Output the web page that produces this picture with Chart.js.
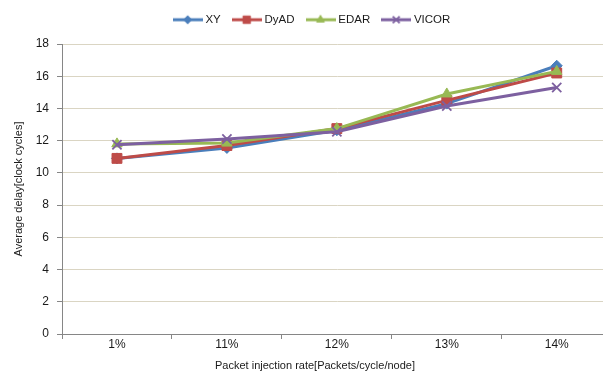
<!DOCTYPE html>
<html>
<head>
<meta charset="utf-8">
<script src="https://cdn.jsdelivr.net/npm/chart.js@4"></script>
<style>
  html, body { margin: 0; padding: 0; background: #fff; overflow: hidden; }
  #wrap { width: 620px; height: 374px; }
</style>
</head>
<body>
<div id="wrap"><canvas id="c" width="620" height="374"></canvas></div>
<script>
// Injection-rate categories and average delay per routing scheme
const categories = ['1%', '11%', '12%', '13%', '14%'];
const xyDelay    = [10.9, 11.55, 12.65, 14.3, 16.65];
const dyadDelay  = [10.9, 11.7, 12.75, 14.5, 16.2];
const edarDelay  = [11.8, 11.85, 12.75, 14.9, 16.3];
const vicorDelay = [11.75, 12.1, 12.55, 14.15, 15.3];
const yTicks = [0, 2, 4, 6, 8, 10, 12, 14, 16, 18];

const xTitle = 'Packet injection rate[Packets/cycle/node]';
const yTitle = 'Average delay[clock cycles]';

const FONT = "'Liberation Sans', Arial, sans-serif";
const TEXT = '#1a1a1a';
const AXIS = '#868686';

const seriesStyle = [
  { label: 'XY',    data: xyDelay,    color: '#4a7ebb', point: 'rectRot',  radius: 5.5, bw: 1 },
  { label: 'DyAD',  data: dyadDelay,  color: '#be4b48', point: 'rect',     radius: 7,   bw: 1 },
  { label: 'EDAR',  data: edarDelay,  color: '#98b954', point: 'triangle', radius: 6,   bw: 1 },
  { label: 'VICOR', data: vicorDelay, color: '#7d60a0', point: 'crossRot', radius: 6.5, bw: 1.8 }
];

// Legend symbol: short line with the series marker in the middle
function legendIcon(s) {
  const cv = document.createElement('canvas');
  cv.width = 30; cv.height = 14;
  const ctx = cv.getContext('2d');
  ctx.strokeStyle = s.color;
  ctx.fillStyle = s.color;
  ctx.lineWidth = 3;
  ctx.beginPath();
  ctx.moveTo(0, 7); ctx.lineTo(30, 7);
  ctx.stroke();
  ctx.lineWidth = s.bw;
  Chart.helpers.drawPoint(ctx, { pointStyle: s.point, radius: s.radius * 0.75, rotation: 0, borderWidth: s.bw }, 15, 7);
  return cv;
}
const icons = seriesStyle.map(legendIcon);

const datasets = seriesStyle.map((s, i) => ({
  label: s.label,
  data: s.data,
  borderColor: s.color,
  backgroundColor: s.color,
  borderWidth: 3,
  pointStyle: s.point,
  pointRadius: s.radius,
  pointBorderWidth: s.bw,
  pointBackgroundColor: s.color,
  pointBorderColor: s.color,
  tension: 0,
  order: seriesStyle.length - i
}));

// Reserve a fixed band above the plot for the legend and nudge it right
const legendBand = {
  id: 'legendBand',
  beforeUpdate(chart) {
    const lg = chart.legend;
    if (lg && !lg._bandWrapped) {
      const fit = lg.fit;
      lg.fit = function () { fit.call(this); this.height = 44; };
      const draw = lg.draw;
      lg.draw = function () {
        const ctx = this.ctx;
        ctx.save();
        ctx.translate(7, 0);
        draw.apply(this, arguments);
        ctx.restore();
      };
      lg._bandWrapped = true;
    }
  }
};

// Horizontal axis caption
const xCaption = {
  id: 'xCaption',
  afterDraw(chart) {
    const ctx = chart.ctx;
    ctx.save();
    ctx.font = '11px ' + FONT;
    ctx.fillStyle = TEXT;
    ctx.textAlign = 'center';
    ctx.textBaseline = 'middle';
    ctx.fillText(xTitle, 315, 366);
    ctx.restore();
  }
};

new Chart(document.getElementById('c'), {
  type: 'line',
  data: { labels: categories, datasets },
  plugins: [legendBand, xCaption],
  options: {
    responsive: false,
    animation: false,
    devicePixelRatio: 1,
    layout: { padding: { top: 0, right: 8, bottom: 0, left: 0 } },
    plugins: {
      tooltip: { enabled: false },
      legend: {
        position: 'top',
        labels: {
          usePointStyle: true,
          pointStyleWidth: 24,
          padding: 14,
          color: TEXT,
          font: { family: FONT, size: 11.5 },
          sort: (a, b) => a.datasetIndex - b.datasetIndex,
          generateLabels: (chart) => {
            const items = Chart.defaults.plugins.legend.labels.generateLabels(chart);
            items.forEach(it => { it.pointStyle = icons[it.datasetIndex]; });
            return items;
          }
        }
      }
    },
    scales: {
      x: {
        offset: true,
        grid: {
          drawOnChartArea: false,
          drawTicks: true,
          tickLength: 5,
          tickColor: AXIS,
          offset: true
        },
        border: { color: AXIS, width: 1 },
        ticks: {
          color: TEXT,
          font: { family: FONT, size: 12 },
          padding: -2,
          maxRotation: 0
        },
        afterFit: (scale) => { scale.height = 40; }
      },
      y: {
        min: 0,
        max: 18,
        afterBuildTicks: (scale) => { scale.ticks = yTicks.map(v => ({ value: v })); },
        grid: {
          color: '#dad5c3',
          lineWidth: 1,
          drawTicks: true,
          tickLength: 5,
          tickColor: AXIS
        },
        border: { color: AXIS, width: 1 },
        ticks: {
          color: TEXT,
          font: { family: FONT, size: 12 },
          padding: 8
        },
        title: {
          display: true,
          text: yTitle,
          color: TEXT,
          font: { family: FONT, size: 11 },
          padding: { top: 12, bottom: 0 }
        },
        afterFit: (scale) => { scale.width = 62; }
      }
    }
  }
});
</script>
</body>
</html>
